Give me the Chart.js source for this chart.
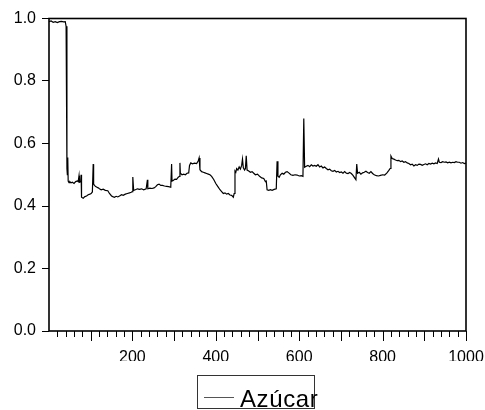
<!DOCTYPE html>
<html>
<head>
<meta charset="utf-8">
<script src="https://cdn.jsdelivr.net/npm/chart.js@4/dist/chart.umd.min.js"></script>
<style>
  html, body { margin: 0; padding: 0; background: #fff; }
  #wrap { width: 485px; height: 410px; }
</style>
</head>
<body>
<div id="wrap"><canvas id="chart" width="485" height="410"></canvas></div>
<script>
const seriesLabel = 'Azúcar';
const obs = [0, 5, 10, 15, 20, 25, 30, 35, 39, 41, 43, 44, 45, 46, 48, 50, 53, 56, 60, 64,
  68, 70, 72, 73, 76, 77, 78, 82, 86, 90, 94, 98, 101, 104, 106, 107, 109, 112, 115, 118,
  121, 125, 130, 135, 141, 145, 150, 153, 157, 161, 165, 169, 174, 178, 183, 188, 193, 197, 200, 201,
  203, 207, 212, 217, 222, 227, 233, 236, 237, 242, 247, 252, 256, 260, 264, 268, 272, 277, 282, 287,
  292, 294, 295, 298, 302, 306, 310, 313, 314, 315, 319, 323, 327, 331, 335, 337, 340, 344, 349, 354,
  358, 360, 362, 366, 370, 374, 378, 382, 386, 390, 395, 400, 405, 410, 414, 418, 422, 426, 430, 434,
  438, 442, 444, 446, 448, 450, 453, 456, 459, 462, 464, 466, 469, 471, 473, 475, 479, 483, 487, 491,
  495, 500, 505, 510, 515, 519, 521, 523, 527, 531, 535, 540, 545, 547, 549, 552, 555, 559, 563, 567,
  571, 575, 580, 585, 590, 595, 600, 605, 609, 611, 613, 617, 621, 625, 629, 633, 637, 641, 645, 649,
  653, 657, 661, 665, 669, 673, 677, 681, 685, 689, 693, 697, 701, 705, 709, 713, 717, 721, 725, 729,
  733, 736, 738, 740, 744, 748, 752, 756, 760, 764, 768, 772, 776, 780, 785, 790, 795, 800, 805, 810,
  815, 818, 820, 823, 827, 831, 835, 839, 843, 847, 851, 855, 859, 863, 867, 871, 875, 879, 883, 887,
  891, 895, 899, 903, 907, 911, 915, 919, 923, 927, 931, 934, 936, 940, 944, 948, 952, 956, 960, 964,
  968, 972, 976, 980, 984, 988, 992, 996, 1000];
const sugar = [0.990, 0.992, 0.988, 0.990, 0.987, 0.990, 0.991, 0.989, 0.990, 0.975, 0.520, 0.500, 0.555, 0.480, 0.475, 0.478, 0.474, 0.476, 0.472, 0.478,
  0.480, 0.478, 0.497, 0.476, 0.478, 0.500, 0.428, 0.425, 0.430, 0.432, 0.436, 0.438, 0.440, 0.445, 0.534, 0.470, 0.466, 0.462, 0.460, 0.458,
  0.455, 0.452, 0.454, 0.450, 0.449, 0.440, 0.432, 0.430, 0.428, 0.431, 0.429, 0.432, 0.436, 0.434, 0.438, 0.440, 0.442, 0.444, 0.446, 0.493,
  0.450, 0.452, 0.455, 0.453, 0.455, 0.452, 0.455, 0.484, 0.455, 0.457, 0.456, 0.458, 0.462, 0.468, 0.470, 0.466, 0.466, 0.464, 0.463, 0.462,
  0.460, 0.534, 0.480, 0.482, 0.486, 0.485, 0.492, 0.495, 0.538, 0.505, 0.500, 0.502, 0.500, 0.505, 0.506, 0.530, 0.538, 0.535, 0.537, 0.536,
  0.545, 0.554, 0.516, 0.510, 0.508, 0.506, 0.504, 0.502, 0.500, 0.495, 0.485, 0.472, 0.462, 0.452, 0.446, 0.440, 0.442, 0.438, 0.440, 0.435,
  0.434, 0.428, 0.440, 0.512, 0.508, 0.520, 0.515, 0.525, 0.518, 0.530, 0.550, 0.522, 0.515, 0.520, 0.561, 0.515, 0.512, 0.508, 0.510, 0.505,
  0.500, 0.502, 0.495, 0.490, 0.488, 0.478, 0.480, 0.452, 0.450, 0.452, 0.450, 0.453, 0.455, 0.543, 0.495, 0.492, 0.500, 0.505, 0.502, 0.508,
  0.510, 0.506, 0.500, 0.498, 0.500, 0.499, 0.496, 0.497, 0.495, 0.680, 0.524, 0.527, 0.530, 0.526, 0.532, 0.528, 0.530, 0.527, 0.532, 0.525,
  0.528, 0.522, 0.525, 0.520, 0.516, 0.518, 0.513, 0.511, 0.514, 0.509, 0.511, 0.507, 0.509, 0.505, 0.510, 0.505, 0.504, 0.507, 0.504, 0.498,
  0.490, 0.484, 0.534, 0.505, 0.508, 0.502, 0.506, 0.508, 0.511, 0.507, 0.505, 0.510, 0.504, 0.500, 0.497, 0.496, 0.498, 0.500, 0.499, 0.505,
  0.514, 0.520, 0.560, 0.552, 0.550, 0.547, 0.545, 0.546, 0.542, 0.544, 0.540, 0.542, 0.538, 0.536, 0.532, 0.534, 0.528, 0.532, 0.530, 0.534,
  0.533, 0.530, 0.533, 0.535, 0.532, 0.536, 0.534, 0.537, 0.535, 0.538, 0.536, 0.550, 0.540, 0.539, 0.542, 0.540, 0.541, 0.538, 0.540, 0.538,
  0.540, 0.539, 0.542, 0.540, 0.540, 0.537, 0.539, 0.536, 0.537];
const yTicks = [0, 0.2, 0.4, 0.6, 0.8, 1.0];
const xLabelEvery = 200;

const points = obs.map((x, i) => ({ x: x, y: sugar[i] }));
const font = "'Liberation Sans', Arial, sans-serif";

// frame, x-axis tick marks and the boxed legend
const framePlugin = {
  id: 'frame',
  afterDraw(chart) {
    const ctx = chart.ctx;
    const a = chart.chartArea;
    const xs = chart.scales.x;
    ctx.save();
    ctx.strokeStyle = '#000';
    ctx.lineWidth = 1;
    for (let v = 20; v <= 1000; v += 20) {
      const px = Math.round(xs.getPixelForValue(v)) + 0.5;
      ctx.beginPath();
      ctx.moveTo(px, a.bottom);
      ctx.lineTo(px, a.bottom + (v % 100 === 0 ? 10 : 6));
      ctx.stroke();
    }
    ctx.lineWidth = 1.6;
    ctx.strokeRect(a.left, a.top, a.right - a.left, a.bottom - a.top);

    // legend
    const bx = 197.5, by = 375.5, bw = 117, bh = 33;
    ctx.lineWidth = 1;
    ctx.strokeStyle = '#333';
    ctx.strokeRect(bx, by, bw, bh);
    ctx.strokeStyle = '#555';
    ctx.beginPath();
    ctx.moveTo(204, 397.5);
    ctx.lineTo(234, 397.5);
    ctx.stroke();
    ctx.fillStyle = '#000';
    ctx.font = '24px ' + font;
    ctx.textBaseline = 'alphabetic';
    if ('letterSpacing' in ctx) ctx.letterSpacing = '0.6px';
    ctx.fillText(chart.data.datasets[0].label, 240, 406.5);
    ctx.restore();
  }
};

new Chart(document.getElementById('chart'), {
  type: 'line',
  data: {
    datasets: [{
      label: seriesLabel,
      data: points,
      borderColor: '#000',
      borderWidth: 1.2,
      pointRadius: 0,
      tension: 0,
      fill: false
    }]
  },
  options: {
    responsive: false,
    animation: false,
    layout: { padding: { top: 18.5, right: 19, bottom: 49, left: 0 } },
    plugins: { legend: { display: false }, tooltip: { enabled: false } },
    scales: {
      x: {
        type: 'linear',
        min: 0,
        max: 1000,
        grid: { display: false },
        border: { display: false },
        afterFit(scale) {
          scale.height = 30;
          scale.paddingLeft = 0;
          scale.paddingRight = 0;
        },
        ticks: {
          stepSize: 20,
          autoSkip: false,
          maxRotation: 0,
          padding: 9,
          color: '#000',
          font: { family: font, size: 16 },
          callback: v => (v > 0 && v % xLabelEvery === 0) ? String(v) : ''
        }
      },
      y: {
        min: yTicks[0],
        max: yTicks[yTicks.length - 1],
        afterFit(scale) {
          scale.width = 49;
          scale.paddingTop = 0;
          scale.paddingBottom = 0;
        },
        afterBuildTicks(scale) { scale.ticks = yTicks.map(v => ({ value: v })); },
        grid: { display: true, drawOnChartArea: false, tickLength: 7, tickColor: '#000', tickWidth: 1 },
        border: { display: false },
        ticks: {
          padding: 6,
          color: '#000',
          font: { family: font, size: 16 },
          callback: v => Number(v).toFixed(1)
        }
      }
    }
  },
  plugins: [framePlugin]
});
</script>
</body>
</html>
